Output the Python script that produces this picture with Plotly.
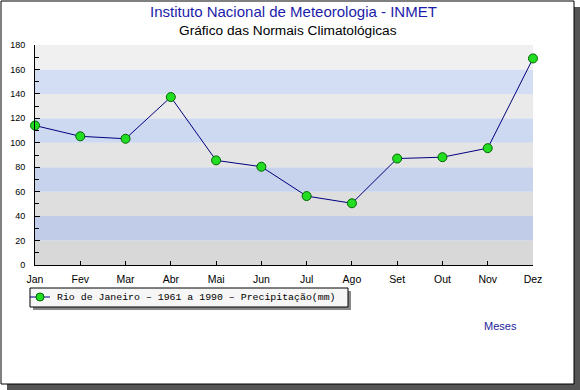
import plotly.graph_objects as go

months = ["Jan", "Fev", "Mar", "Abr", "Mai", "Jun", "Jul", "Ago", "Set", "Out", "Nov", "Dez"]
precip = [114.1, 105.3, 103.3, 137.4, 85.6, 80.4, 56.4, 50.5, 87.1, 88.2, 95.6, 169.0]
y_ticks = [0, 20, 40, 60, 80, 100, 120, 140, 160, 180]
series_name = "Rio de Janeiro \u2013 1961 a 1990 \u2013 Precipita\u00e7\u00e3o(mm)"

W, H = 580, 390
L, R, T, B = 35, 47, 45, 125
pw, ph = W - L - R, H - T - B

def px(x):
    return (x - L) / pw

def py(y):
    return (H - B - y) / ph

LINE_COL = "#000080"
MK_COL = "#22dd22"
MK_EDGE = "#006600"

fig = go.Figure()
fig.add_trace(go.Scatter(
    x=list(range(len(months))), y=precip, mode="lines+markers",
    name=series_name,
    line=dict(color=LINE_COL, width=1),
    marker=dict(symbol="circle", size=9, color=MK_COL, line=dict(color=MK_EDGE, width=1)),
    cliponaxis=False, showlegend=False,
))

shapes = []
shapes.append(dict(type="rect", xref="paper", yref="paper", x0=px(7), x1=px(580), y0=py(7), y1=py(390),
                   fillcolor="#555555", line=dict(width=0), layer="below"))
shapes.append(dict(type="rect", xref="paper", yref="paper", x0=px(1), x1=px(574), y0=py(1), y1=py(384),
                   fillcolor="white", line=dict(color="black", width=1), layer="below"))
# legend box with shadow
shapes.append(dict(type="rect", xref="paper", yref="paper", x0=px(33), x1=px(351), y0=py(291), y1=py(310),
                   fillcolor="#888888", line=dict(width=0), layer="below"))
shapes.append(dict(type="rect", xref="paper", yref="paper", x0=px(30), x1=px(348), y0=py(288), y1=py(307),
                   fillcolor="#f6f6f6", line=dict(color="black", width=1), layer="below"))
shapes.append(dict(type="line", xref="paper", yref="paper", x0=px(30), x1=px(50), y0=py(297), y1=py(297),
                   line=dict(color=LINE_COL, width=1), layer="above"))
shapes.append(dict(type="circle", xref="paper", yref="paper", x0=px(36), x1=px(44), y0=py(293), y1=py(301),
                   fillcolor=MK_COL, line=dict(color=MK_EDGE, width=1), layer="above"))

def mix(c1, c2, t):
    return "#%02x%02x%02x" % tuple(int(round(a + (b - a) * t)) for a, b in zip(c1, c2))

gray_top, gray_bot = (242, 242, 242), (214, 214, 214)
blue_top, blue_bot = (216, 226, 248), (188, 200, 230)
for i in range(len(y_ticks) - 1):
    y0, y1 = y_ticks[i], y_ticks[i + 1]
    t = 1 - (y0 + 10) / 180
    col = mix(gray_top, gray_bot, t) if i % 2 == 0 else mix(blue_top, blue_bot, t)
    shapes.append(dict(type="rect", xref="x domain", yref="y", x0=0, x1=1, y0=y0, y1=y1,
                       fillcolor=col, line=dict(width=0), layer="below"))

annotations = [
    dict(text="Instituto Nacional de Meteorologia - INMET", xref="paper", yref="paper",
         x=px(293), y=py(11.5), yanchor="middle", showarrow=False,
         font=dict(size=15, color="#1c1caa", family="Liberation Sans")),
    dict(text="Gr\u00e1fico das Normais Climatol\u00f3gicas", xref="paper", yref="paper",
         x=px(288), y=py(30.5), yanchor="middle", showarrow=False,
         font=dict(size=13.7, color="black", family="Liberation Sans")),
    dict(text="Meses", xref="paper", yref="paper", x=px(519), y=py(326), yanchor="middle", showarrow=False,
         font=dict(size=11, color="#1c1c9c", family="Liberation Sans")),
    dict(text=series_name, xref="paper", yref="paper", x=px(55), y=py(297.5), xanchor="left",
         yanchor="middle", showarrow=False, font=dict(size=9.9, color="black", family="Liberation Mono")),
]

fig.update_layout(
    width=W, height=H, margin=dict(l=L, r=R, t=T, b=B, autoexpand=False),
    paper_bgcolor="white", plot_bgcolor="rgba(0,0,0,0)",
    shapes=shapes, annotations=annotations,
    font=dict(family="Liberation Sans", size=11, color="black"),
    showlegend=False,
    xaxis=dict(range=[0, 11], tickmode="array", tickvals=list(range(len(months))), ticktext=months,
               showgrid=False, zeroline=False, showline=True, linecolor="black", linewidth=1,
               ticks="inside", ticklen=4, tickcolor="black", tickfont=dict(size=10.5),
               ticklabelstandoff=4, automargin=False),
    yaxis=dict(range=[0, 180], tickmode="array", tickvals=y_ticks, showgrid=False, zeroline=False,
               showline=True, linecolor="black", linewidth=1, ticks="inside", ticklen=5,
               tickcolor="black", tickfont=dict(size=9), ticklabelstandoff=7, automargin=False,
               minor=dict(dtick=10, ticks="inside", ticklen=4, tickcolor="black", showgrid=False)),
)

fig.write_html("out.html", config={"displayModeBar": False},
               post_script="document.body.style.margin='0';document.body.style.overflow='hidden';")
